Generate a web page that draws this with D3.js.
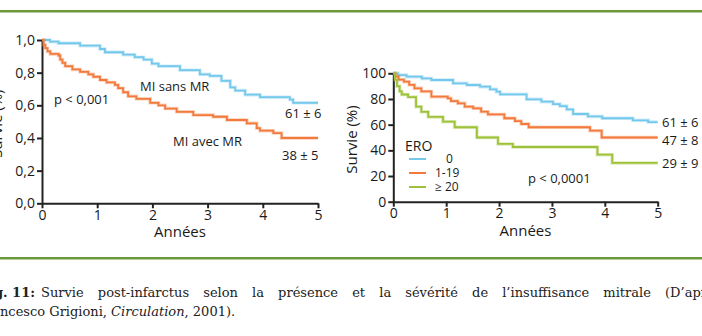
<!DOCTYPE html>
<html>
<head>
<meta charset="utf-8">
<script src="https://cdn.jsdelivr.net/npm/d3@7"></script>
<style>
  html, body { margin: 0; padding: 0; background: #fff; }
  svg { display: block; }
</style>
</head>
<body>
<div id="chart"></div>
<script>
// years on both x axes
const yearTicks = [0, 1, 2, 3, 4, 5];
const leftTicks = [0, 0.2, 0.4, 0.6, 0.8, 1.0];
const rightTicks = [0, 20, 40, 60, 80, 100];

// left panel: Kaplan-Meier steps [year, survival]
const sansMR = [[0, 1.0], [0.145, 0.99], [0.30, 0.98], [0.69, 0.965], [1.05, 0.945], [1.14, 0.925],
  [1.47, 0.91], [1.68, 0.895], [1.84, 0.88], [1.99, 0.855], [2.11, 0.84], [2.50, 0.815],
  [2.86, 0.79], [3.04, 0.78], [3.25, 0.75], [3.41, 0.71], [3.50, 0.69], [3.68, 0.665],
  [3.95, 0.65], [4.49, 0.635], [4.55, 0.615], [5, 0.615]];
const avecMR = [[0, 1.0], [0.03, 0.97], [0.06, 0.95], [0.10, 0.93], [0.15, 0.915], [0.30, 0.905],
  [0.33, 0.88], [0.37, 0.86], [0.42, 0.84], [0.55, 0.82], [0.69, 0.805], [0.84, 0.79],
  [0.93, 0.775], [1.05, 0.755], [1.17, 0.74], [1.32, 0.725], [1.38, 0.705], [1.47, 0.68],
  [1.56, 0.655], [1.71, 0.64], [1.96, 0.615], [2.11, 0.60], [2.23, 0.58], [2.44, 0.56],
  [2.74, 0.54], [3.10, 0.53], [3.35, 0.51], [3.71, 0.49], [3.89, 0.46], [3.95, 0.445],
  [4.19, 0.43], [4.34, 0.40], [5, 0.40]];

// right panel: survival (%) by ERO
const ero0 = [[0, 100], [0.09, 98.6], [0.25, 97.4], [0.54, 96], [0.72, 94.8], [1.13, 92.2],
  [1.39, 90.9], [1.64, 89.6], [1.83, 87.5], [1.95, 85.7], [2.02, 83.6], [2.52, 79.7],
  [2.80, 77.9], [3.02, 76], [3.15, 74.5], [3.28, 71.9], [3.40, 68.3], [3.68, 66.4],
  [3.95, 65], [4.53, 63.4], [4.82, 62], [5, 62]];
const ero1to19 = [[0, 100], [0.04, 97.5], [0.10, 95], [0.20, 93.5], [0.30, 91], [0.40, 88.3],
  [0.53, 85.9], [0.72, 81.8], [1.03, 80.5], [1.09, 78.4], [1.22, 76.6], [1.35, 74],
  [1.51, 72.7], [1.66, 70.1], [1.79, 68], [2.10, 65], [2.30, 62.8], [2.42, 60.5],
  [2.56, 58], [3.72, 55.3], [3.94, 50], [5, 50]];
const ero20 = [[0, 100], [0.03, 95], [0.07, 90], [0.12, 86], [0.16, 83.5], [0.28, 81.5],
  [0.43, 74], [0.53, 70], [0.66, 66], [0.94, 62.3], [1.16, 58], [1.58, 50],
  [1.98, 45], [2.26, 42.6], [3.86, 36.6], [4.14, 30.2], [5, 30.2]];

const blue = "#74c8ec", orange = "#f27a3d", green = "#9dc23a";

const svg = d3.select("#chart").append("svg")
    .attr("width", 702)
    .attr("height", 336)
    .style("font-family", "'Open Sans', 'Noto Sans', sans-serif");

// green rules of the page
svg.append("rect").attr("x", 0).attr("y", 10).attr("width", 702).attr("height", 2.5).attr("fill", "#6c9a3b");
svg.append("rect").attr("x", 0).attr("y", 257).attr("width", 702).attr("height", 2.5).attr("fill", "#6c9a3b");

function panel(opt) {
  const x = d3.scaleLinear().domain([0, 5]).range(opt.xr);
  const y = d3.scaleLinear().domain(opt.yd).range(opt.yr);
  const g = svg.append("g");

  const xAxis = g.append("g")
      .attr("transform", `translate(0,${opt.yr[0]})`)
      .call(d3.axisBottom(x).tickValues(yearTicks).tickFormat(d3.format("d")).tickSize(5).tickSizeOuter(0));
  const yAxis = g.append("g")
      .attr("transform", `translate(${opt.xr[0]},0)`)
      .call(d3.axisLeft(y).tickValues(opt.ticks).tickFormat(opt.fmt).tickSize(5).tickSizeOuter(0));

  [xAxis, yAxis].forEach(a => {
    a.select(".domain").attr("stroke", "#222").attr("stroke-width", 2);
    a.selectAll(".tick line").attr("stroke", "#222").attr("stroke-width", 2);
    a.selectAll(".tick text").attr("fill", "#1a1a1a")
        .style("font-size", "14px").style("font-family", "'Open Sans', sans-serif");
  });
  xAxis.selectAll(".tick text").attr("dy", "0.9em").attr("y", 4);
  yAxis.selectAll(".tick text").attr("x", -7);

  g.append("text")
      .attr("x", (opt.xr[0] + opt.xr[1]) / 2)
      .attr("y", opt.yr[0] + 34)
      .attr("text-anchor", "middle")
      .attr("fill", "#1a1a1a")
      .style("font-size", "15px")
      .text("Années");

  g.append("text")
      .attr("transform", `translate(${opt.titleX},${(opt.yr[0] + opt.yr[1]) / 2 + 2}) rotate(-90)`)
      .attr("text-anchor", "middle")
      .attr("dy", "0.35em")
      .attr("fill", "#1a1a1a")
      .style("font-size", "15px")
      .text("Survie (%)");

  const line = d3.line().x(d => x(d[0])).y(d => y(d[1])).curve(d3.curveStepAfter);
  opt.series.forEach(s => {
    g.append("path").datum(s.data)
        .attr("fill", "none").attr("stroke", s.color).attr("stroke-opacity", 0.35)
        .attr("stroke-width", 3.5).attr("d", line);
    g.append("path").datum(s.data)
        .attr("fill", "none").attr("stroke", s.color)
        .attr("stroke-width", 1.8).attr("d", line);
  });
  return {x, y, g};
}

panel({
  xr: [42, 318], yr: [203.3, 40], yd: [0, 1], ticks: leftTicks,
  fmt: d => d3.format(".1f")(d).replace(".", ","), titleX: -3,
  series: [{data: sansMR, color: blue}, {data: avecMR, color: orange}]
});

panel({
  xr: [393.3, 657.7], yr: [201.7, 73.3], yd: [0, 100], ticks: rightTicks,
  fmt: d3.format("d"), titleX: 352,
  series: [{data: ero0, color: blue}, {data: ero1to19, color: orange}, {data: ero20, color: green}]
});

function label(x, y, txt, size) {
  svg.append("text").attr("x", x).attr("y", y).attr("dy", "0.35em")
      .attr("fill", "#1a1a1a").style("font-size", (size || 13) + "px").text(txt);
}

// left annotations
label(140, 86, "MI sans MR");
label(54, 99, "p < 0,001");
label(285, 113, "61 ± 6");
label(173, 141, "MI avec MR");
label(282, 155, "38 ± 5");

// right annotations
label(662, 122, "61 ± 6", 13);
label(662, 140, "47 ± 8", 13);
label(662, 163, "29 ± 9", 13);
label(528, 178, "p < 0,0001");

// legend
label(405, 146, "ERO", 14);
const legendItems = [
  {name: "0", color: blue, x: 446},
  {name: "1-19", color: orange, x: 435},
  {name: "≥ 20", color: green, x: 435}
];
legendItems.forEach((d, i) => {
  const ly = 159 + i * 14;
  svg.append("line").attr("x1", 409).attr("x2", 426).attr("y1", ly).attr("y2", ly)
      .attr("stroke", d.color).attr("stroke-width", 2);
  label(d.x, ly, d.name, 12);
});

// caption, first line justified between x0 and lastX
const cap = svg.append("g").attr("fill", "#222")
    .style("font-family", "'DejaVu Serif', 'Liberation Serif', serif")
    .style("font-size", "13px");
cap.append("text").attr("x", 35).attr("y", 297).attr("text-anchor", "end")
    .style("font-weight", "bold")
    .text("Fig. 11:");
const words = ["Survie", "post-infarctus", "selon", "la", "présence", "et", "la", "sévérité", "de",
  "l’insuffisance", "mitrale", "(D’après"];
const x0 = 41, lastX = 665;
const nodes = words.map(w => cap.append("text").attr("y", 297).text(w));
const widths = nodes.map(n => n.node().getComputedTextLength());
const used = d3.sum(widths.slice(0, -1));
const gap = (lastX - x0 - used) / (words.length - 1);
let cx = x0;
nodes.forEach((n, i) => { n.attr("x", cx); cx += widths[i] + gap; });

const l2 = cap.append("text").attr("x", -23).attr("y", 316);
l2.append("tspan").text("Francesco Grigioni, ");
l2.append("tspan").style("font-style", "italic").text("Circulation");
l2.append("tspan").text(", 2001).");
</script>
</body>
</html>
